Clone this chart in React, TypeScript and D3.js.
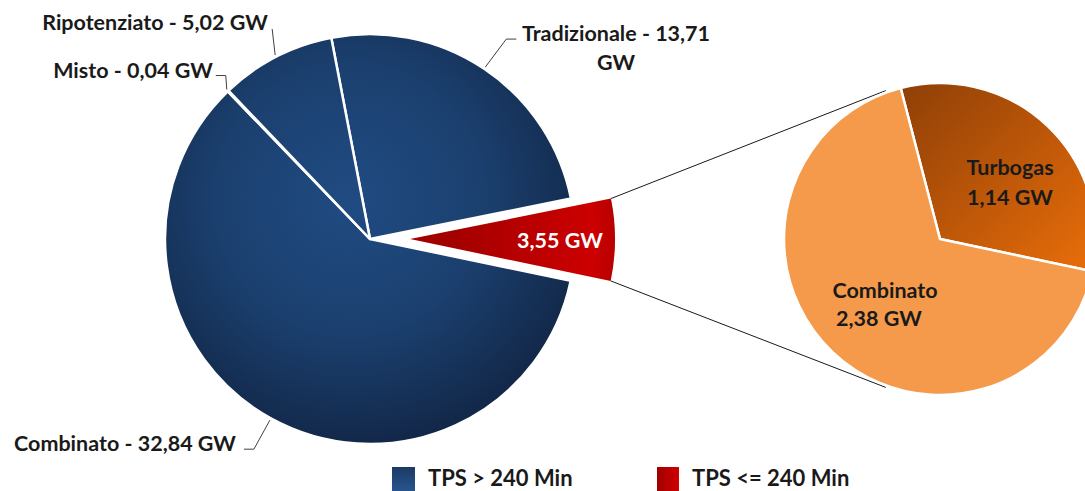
import React from 'react';
import * as d3 from 'd3';

// main pie: capacity by plant type (GW)
const mainLabels = ['Tradizionale', 'TPS <= 240 Min', 'Combinato', 'Misto', 'Ripotenziato'];
const mainValues = [13.71, 3.55, 32.84, 0.04, 5.02];
const mainText = ['Tradizionale - 13,71 GW', '3,55 GW', 'Combinato - 32,84 GW', 'Misto - 0,04 GW', 'Ripotenziato - 5,02 GW'];

// breakdown of the TPS <= 240 Min slice
const subLabels = ['Turbogas', 'Combinato'];
const subValues = [1.14, 2.38];
const subText = [['Turbogas', '1,14 GW'], ['Combinato', '2,38 GW']];

const legendLabels = ['TPS > 240 Min', 'TPS <= 240 Min'];

const W = 1085;
const H = 491;
const font = 'Lato, "Open Sans", sans-serif';
const fs = 21.5;

const pt = (a: number, r: number, cx: number, cy: number): [number, number] => [
  cx + Math.sin(a) * r,
  cy - Math.cos(a) * r,
];

export default function App() {
  const cx = 370, cy = 239, R = 205;
  const scx = 940, scy = 239, sR = 156;
  const explode = 40;

  const pie = d3.pie<number>().sort(null).startAngle(-0.19).endAngle(-0.19 + 2 * Math.PI);
  const arcs = pie(mainValues);
  const arc = d3.arc<d3.PieArcDatum<number>>().innerRadius(0).outerRadius(R);

  const subPie = d3.pie<number>().sort(null).startAngle(-0.255).endAngle(-0.255 + 2 * Math.PI);
  const subArcs = subPie(subValues);
  const subArc = d3.arc<d3.PieArcDatum<number>>().innerRadius(0).outerRadius(sR);

  const red = arcs[1];
  const redMid = (red.startAngle + red.endAngle) / 2;
  const ox = Math.sin(redMid) * explode;
  const oy = -Math.cos(redMid) * explode;
  const redTop = pt(red.startAngle, R, cx + ox, cy + oy);
  const redBot = pt(red.endAngle, R, cx + ox, cy + oy);
  const subTop = pt(-0.35, sR + 2, scx, scy);
  const subBot = pt(Math.PI + 0.35, sR + 2, scx, scy);

  const mid = (d: d3.PieArcDatum<number>) => (d.startAngle + d.endAngle) / 2;

  // outside label placement and leader elbows
  const outside: Record<number, { x: number; y: number; path: (e: [number, number]) => string }> = {
    0: { x: 616, y: 41, path: (e) => `M${e[0]},${e[1]}L${e[0] + 21},${e[1] - 28}L${e[0] + 31},${e[1] - 28}` },
    2: { x: 125, y: 451, path: (e) => `M${e[0]},${e[1]}L${e[0] - 16},${e[1] + 29}L${e[0] - 26},${e[1] + 29}` },
    3: { x: 133, y: 78, path: (e) => `M${e[0]},${e[1]}L${e[0] - 1},${e[1] - 14}L${e[0] - 11},${e[1] - 14}` },
    4: { x: 155, y: 30, path: (e) => `M${e[0]},${e[1]}L${e[0] - 3},${e[1] - 26}` },
  };

  return (
    <svg width={W} height={H} style={{ position: 'absolute', left: 0, top: 0 }} fontFamily={font}>
      <defs>
        <radialGradient id="navy" gradientUnits="userSpaceOnUse" cx={-20} cy={-40} r={265}>
          <stop offset="0" stopColor="#204b82" />
          <stop offset="0.5" stopColor="#1b406f" />
          <stop offset="1" stopColor="#112443" />
        </radialGradient>
        <radialGradient id="red" gradientUnits="userSpaceOnUse" cx={0} cy={0} r={R}>
          <stop offset="0.2" stopColor="#a30000" />
          <stop offset="0.9" stopColor="#cc0000" />
          <stop offset="1" stopColor="#b80000" />
        </radialGradient>
        <linearGradient id="turbo" x1="0" y1="0" x2="1" y2="1">
          <stop offset="0" stopColor="#8e3f07" />
          <stop offset="1" stopColor="#ea6e0a" />
        </linearGradient>
        <linearGradient id="legNavy" x1="0" y1="0" x2="0" y2="1">
          <stop offset="0" stopColor="#1b3a64" />
          <stop offset="1" stopColor="#28558e" />
        </linearGradient>
        <linearGradient id="legRed" x1="0" y1="0" x2="1" y2="0">
          <stop offset="0" stopColor="#a00000" />
          <stop offset="1" stopColor="#d00000" />
        </linearGradient>
      </defs>

      {/* connectors to breakdown pie */}
      <path d={`M${redTop[0]},${redTop[1]}L${subTop[0]},${subTop[1]}`} stroke="#1a1a1a" strokeWidth={1} fill="none" />
      <path d={`M${redBot[0]},${redBot[1]}L${subBot[0]},${subBot[1]}`} stroke="#1a1a1a" strokeWidth={1} fill="none" />

      {/* main pie */}
      <g>
        {arcs.map((d, i) => {
          const isRed = i === 1;
          const tx = isRed ? cx + ox : cx;
          const ty = isRed ? cy + oy : cy;
          return (
            <path
              key={mainLabels[i]}
              d={arc(d) || ''}
              transform={`translate(${tx},${ty})`}
              fill={isRed ? 'url(#red)' : 'url(#navy)'}
              stroke="#fff"
              strokeWidth={isRed ? 0 : 2.5}
              strokeLinejoin="round"
            />
          );
        })}
      </g>

      {/* red label */}
      <text x={cx + ox + Math.sin(redMid) * 150} y={cy + oy - Math.cos(redMid) * 150 + 8} textAnchor="middle"
        fill="#fff" fontWeight={700} fontSize={fs}>{mainText[1]}</text>

      {/* outside labels */}
      {[0, 2, 3, 4].map((i) => {
        const e = pt(mid(arcs[i]), R + 2, cx, cy);
        const o = outside[i];
        return (
          <g key={'l' + i}>
            <path d={o.path(e)} stroke="#404040" strokeWidth={1} fill="none" />
            {i === 0 ? (
              <text x={o.x} y={o.y} textAnchor="middle" fontWeight={700} fontSize={fs} fill="#1a1a1a">
                <tspan x={o.x}>Tradizionale - 13,71</tspan>
                <tspan x={o.x} dy={29}>GW</tspan>
              </text>
            ) : (
              <text x={o.x} y={o.y} textAnchor="middle" fontWeight={700} fontSize={fs} fill="#1a1a1a">{mainText[i]}</text>
            )}
          </g>
        );
      })}

      {/* breakdown pie */}
      <g transform={`translate(${scx},${scy})`}>
        {subArcs.map((d, i) => (
          <path key={subLabels[i]} d={subArc(d) || ''} fill={i === 0 ? 'url(#turbo)' : '#f59a4a'}
            stroke="#fff" strokeWidth={2.5} strokeLinejoin="round" />
        ))}
      </g>
      {subArcs.map((d, i) => {
        const c = i === 0 ? [1010, 175] : [885, 298];
        return (
          <text key={'s' + i} x={c[0]} y={c[1]} textAnchor="middle" fontWeight={700} fontSize={fs} fill="#1a1a1a">
            <tspan x={c[0]}>{subText[i][0]}</tspan>
            <tspan x={i === 0 ? c[0] : c[0] - 6} dy={i === 0 ? 30 : 28}>{subText[i][1]}</tspan>
          </text>
        );
      })}

      {/* legend */}
      <g>
        <rect x={392} y={467} width={23} height={24} fill="url(#legNavy)" />
        <text x={428} y={486} fontSize={22} fontWeight={700} fill="#1a1a1a">{legendLabels[0]}</text>
        <rect x={657} y={467} width={22} height={24} fill="url(#legRed)" />
        <text x={692} y={486} fontSize={22} fontWeight={700} fill="#1a1a1a">{legendLabels[1]}</text>
      </g>
    </svg>
  );
}
